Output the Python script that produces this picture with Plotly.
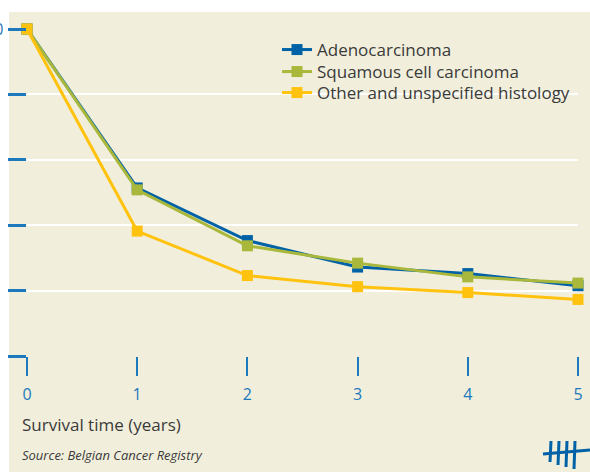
import plotly.graph_objects as go

years = [0, 1, 2, 3, 4, 5]
adeno = [100, 51.4, 35.3, 27.2, 25.2, 21.5]
squamous = [100, 50.8, 33.7, 28.4, 24.2, 22.3]
other = [100, 38.2, 24.6, 21.2, 19.4, 17.3]
series_names = ["Adenocarcinoma", "Squamous cell carcinoma", "Other and unspecified histology"]
y_ticks = [0, 20, 40, 60, 80, 100]

BLUE = "#0062A6"
GREEN = "#A9B83B"
YELLOW = "#FFC20F"
BEIGE = "#F1EFDB"
TEXT = "#3A3A3A"
TICKBLUE = "#1C79BD"

W, H = 590, 472
L, R, T, B = 27, 12, 29, 116
PW, PH = W - L - R, H - T - B

def px(x):
    return (x - L) / PW

def py(y):
    return (H - B - y) / PH

legend_ids = ["legend", "legend2", "legend3"]
legend_rows = [50, 72, 93]

fig = go.Figure()
for name, vals, col, lg in zip(series_names, [adeno, squamous, other], [BLUE, GREEN, YELLOW], legend_ids):
    fig.add_trace(go.Scatter(
        x=years, y=vals, name=name, mode="lines+markers",
        line=dict(color=col, width=3),
        marker=dict(symbol="square", size=11, color=col),
        cliponaxis=False, legend=lg,
    ))

shapes = [
    dict(type="rect", xref="paper", yref="paper", x0=px(9), x1=px(W + 5), y0=py(H + 5), y1=py(12),
         fillcolor=BEIGE, line=dict(width=0), layer="below"),
]
logo_lines = [
    (543, 454, 590, 450),
    (551, 441, 550, 462),
    (559, 441, 558, 465),
    (567, 441, 566, 467),
    (575, 441, 574, 469),
]
for x0, y0, x1, y1 in logo_lines:
    shapes.append(dict(type="line", xref="paper", yref="paper", x0=px(x0), y0=py(y0), x1=px(x1), y1=py(y1),
                       line=dict(color=BLUE, width=3)))

legend_layout = {}
for lg, row in zip(legend_ids, legend_rows):
    legend_layout[lg] = dict(x=px(277), y=py(row), xanchor="left", yanchor="middle",
                             bgcolor="rgba(0,0,0,0)", font=dict(size=17, color=TEXT),
                             itemwidth=30)

fig.update_layout(
    width=W, height=H,
    margin=dict(l=L, r=R, t=T, b=B, autoexpand=False),
    paper_bgcolor="white",
    plot_bgcolor="rgba(0,0,0,0)",
    font=dict(family="Open Sans", color=TEXT),
    showlegend=True,
    xaxis=dict(range=[0, 5], tickvals=years, ticktext=[str(v) for v in years],
               showgrid=False, zeroline=False, showline=False,
               ticks="outside", ticklen=19, tickwidth=1.5, tickcolor=TICKBLUE,
               ticklabelstandoff=5,
               tickfont=dict(size=16, color=TICKBLUE), automargin=False),
    yaxis=dict(range=[0, 100], tickvals=y_ticks, showticklabels=False,
               showgrid=True, gridcolor="white", gridwidth=2, zeroline=False, showline=False,
               ticks="outside", ticklen=18, tickwidth=2.5, tickcolor=TICKBLUE, automargin=False),
    shapes=shapes,
    annotations=[
        dict(text="Survival time (years)", xref="paper", yref="paper", x=px(20), y=py(424),
             xanchor="left", yanchor="middle", showarrow=False, font=dict(size=17, color=TEXT)),
        dict(text="<i>Source: Belgian Cancer Registry</i>", xref="paper", yref="paper", x=px(20), y=py(455),
             xanchor="left", yanchor="middle", showarrow=False, font=dict(size=13, color=TEXT)),
        dict(text="100", xref="paper", yref="paper", x=px(5), y=py(29),
             xanchor="right", yanchor="middle", showarrow=False, font=dict(size=16, color=TICKBLUE)),
    ],
    **legend_layout,
)

fig.write_html("out.html", config={"displayModeBar": False},
               post_script="document.body.style.margin='0';document.body.style.overflow='hidden';")
